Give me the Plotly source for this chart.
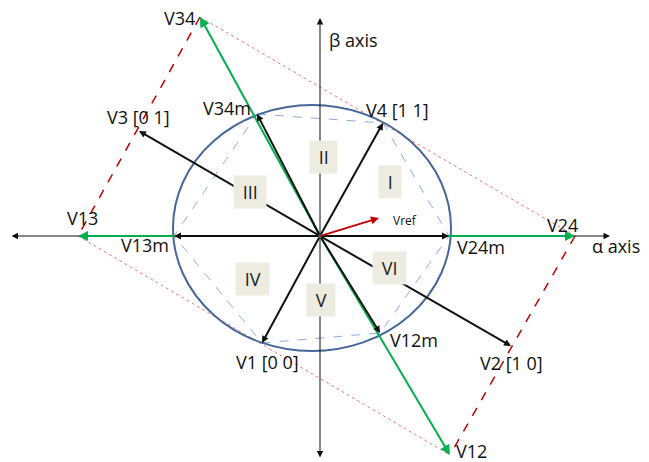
import plotly.graph_objects as go

# Pontos (origem no cruzamento dos eixos, unidades = pixels)
# vetores médios / básicos sobre a elipse
med_nomes = ['V4', 'V34m', 'V13m', 'V1', 'V12m', 'V24m']
med_x = [63, -63, -146, -58, 60, 129]
med_y = [113, 122, 0, -107, -97, 0]

# vetores longos (verdes)
longo_nomes = ['V34', 'V13', 'V12', 'V24']
longo_x = [-120, -242, 130, 255]
longo_y = [219, 0, -219, 0]

# vetores V3 e V2
ext_nomes = ['V3', 'V2']
ext_x = [-181, 191]
ext_y = [105, -110]

# vetor de referência
vref_x = [59]
vref_y = [18]

# elipse: centro e semi-eixos
elipse_cx = [-8]
elipse_cy = [8]
elipse_rx = [139]
elipse_ry = [123]

# eixos
eixo_x = [-310, 290]
eixo_y = [-223, 218]

# setores
setores = ['I', 'II', 'III', 'IV', 'V', 'VI']
setor_x = [70, 3, -70, -68, 1, 69]
setor_y = [54, 79, 44, -43, -64, -32]

# Cores
preto = '#111111'
verde = '#00B050'
azul = '#46679A'
azul_claro = '#8AADDC'
vermelho = '#C00000'
vermelho_claro = '#E87878'
fundo_setor = '#EEECE1'
fonte = 'Open Sans'

fig = go.Figure()

# Elipse
fig.add_shape(type='circle', xref='x', yref='y',
              x0=elipse_cx[0] - elipse_rx[0], x1=elipse_cx[0] + elipse_rx[0],
              y0=elipse_cy[0] - elipse_ry[0], y1=elipse_cy[0] + elipse_ry[0],
              line=dict(color=azul, width=2))

# Hexágono tracejado azul
pm = dict(zip(med_nomes, zip(med_x, med_y)))
hex_ordem = ['V34m', 'V4', 'V24m', 'V12m', 'V1', 'V13m', 'V34m']
fig.add_trace(go.Scatter(
    x=[pm[n][0] for n in hex_ordem], y=[pm[n][1] for n in hex_ordem],
    mode='lines', line=dict(color=azul_claro, width=1, dash='dash'),
    hoverinfo='skip'))

pl = dict(zip(longo_nomes, zip(longo_x, longo_y)))
# Losango vermelho: lados tracejados grossos
for a, b in [('V34', 'V13'), ('V24', 'V12')]:
    fig.add_trace(go.Scatter(
        x=[pl[a][0], pl[b][0]], y=[pl[a][1], pl[b][1]],
        mode='lines', line=dict(color=vermelho, width=1.5, dash='dash'),
        hoverinfo='skip'))
# lados pontilhados finos
for a, b in [('V34', 'V24'), ('V13', 'V12')]:
    fig.add_trace(go.Scatter(
        x=[pl[a][0], pl[b][0]], y=[pl[a][1], pl[b][1]],
        mode='lines', line=dict(color=vermelho_claro, width=1, dash='dot'),
        hoverinfo='skip'))


def seta(x, y, ax, ay, cor, largura=2, tamanho=1.0, lados='end'):
    fig.add_annotation(x=x, y=y, ax=ax, ay=ay, xref='x', yref='y',
                       axref='x', ayref='y', text='', showarrow=True,
                       arrowhead=2, arrowside=lados, arrowsize=tamanho,
                       arrowwidth=largura, arrowcolor=cor, standoff=0)


# Eixos
seta(eixo_x[1], 0, eixo_x[0], 0, preto, 1, 1.3, 'end+start')
seta(0, eixo_y[1], 0, eixo_y[0], preto, 1, 1.3, 'end+start')

# Vetores verdes
for x, y in zip(longo_x, longo_y):
    seta(x, y, 0, 0, verde, 2, 1.0)

# Vetores pretos
for x, y in zip(med_x + ext_x, med_y + ext_y):
    seta(x, y, 0, 0, preto, 2, 0.7)

# Vref
seta(vref_x[0], vref_y[0], 0, 0, vermelho, 1.8, 0.9)

# Rótulos
rotulos = [
    ('V34', -123, 218, 'right'),
    ('β axis', 7, 196, 'left'),
    ('V34m', -93, 128, 'center'),
    ('V3 [0 1]', -182, 119, 'center'),
    ('V4 [1 1]', 77, 126, 'center'),
    ('V13', -238, 18, 'center'),
    ('V13m', -175, -9, 'center'),
    ('V24m', 161, -11, 'center'),
    ('V24', 242, 11, 'center'),
    ('α axis', 296, -10, 'center'),
    ('V1 [0 0]', -53, -126, 'center'),
    ('V12m', 94, -104, 'center'),
    ('V2 [1 0]', 191, -127, 'center'),
    ('V12', 151, -215, 'center'),
]
for txt, x, y, anc in rotulos:
    fig.add_annotation(x=x, y=y, text=txt, showarrow=False, xanchor=anc,
                       font=dict(family=fonte, size=18, color=preto))

fig.add_annotation(x=85, y=16, text='Vref', showarrow=False,
                   font=dict(family=fonte, size=12, color=preto))

# Setores em caixas
for s, x, y in zip(setores, setor_x, setor_y):
    fig.add_annotation(x=x, y=y, text='\u00a0' + s + '\u00a0', showarrow=False,
                       bgcolor=fundo_setor, borderpad=4,
                       font=dict(family=fonte, size=18, color='#222222'))

fig.update_layout(
    width=649, height=462,
    margin=dict(l=0, r=0, t=0, b=0),
    plot_bgcolor='white', paper_bgcolor='white',
    showlegend=False,
    xaxis=dict(range=[-320, 329], visible=False, fixedrange=True),
    yaxis=dict(range=[-226, 236], visible=False, fixedrange=True),
)

# sem margem da página para o gráfico ocupar a janela toda
fig.write_html('out.html', config=dict(displayModeBar=False),
               post_script="document.body.style.margin='0';")
